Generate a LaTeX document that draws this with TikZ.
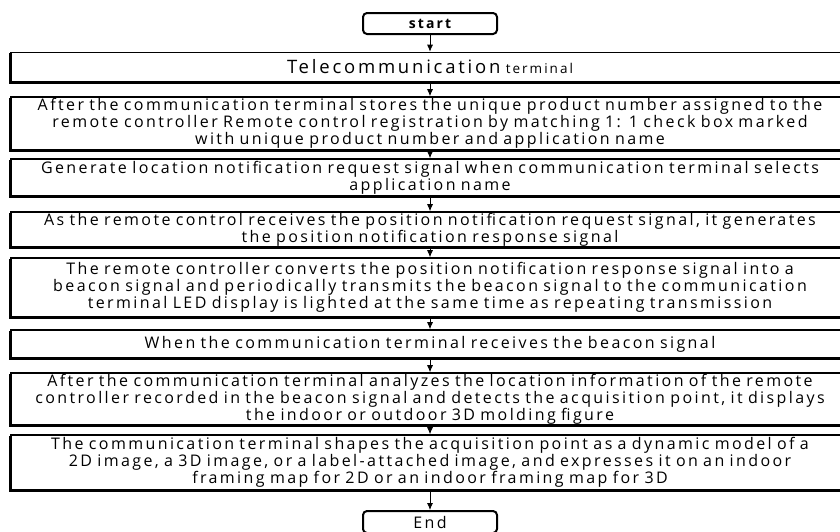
\documentclass[tikz,border=0pt]{standalone}
\usepackage{fontspec}
\setmainfont{Open Sans}[LetterSpace=15]
\usetikzlibrary{arrows.meta}
\newcommand\stepfont{\fontsize{16}{15.8}\selectfont\spaceskip=10pt plus 1pt minus 1pt\relax}
\begin{document}
\begin{tikzpicture}[x=1pt,y=-1pt,
  font=\stepfont,
  stepbox/.style={draw, line width=1.6pt, fill=white, minimum width=838pt,
    text width=838pt, align=center, inner sep=0pt,
    preaction={draw, line width=1.6pt, transform canvas={xshift=-1.6pt, yshift=-1.6pt}}},
  termbox/.style={draw, line width=2pt, fill=white, rounded corners=4pt,
    minimum width=134pt, inner sep=0pt},
  flow/.style={-{Latex[length=7pt,width=6pt]}, line width=0.8pt}]
  \clip (0,0) rectangle (840,531);
  % Start and end
  \node[termbox, minimum height=21pt] (start) at (430,23.5) {\fontsize{14}{15}\selectfont\bfseries start};
  \node[termbox, minimum height=22pt] (end) at (430,522) {End};
  % Steps
  \node[stepbox, minimum height=29pt] (term) at (430,67)
    {{\fontsize{18.5}{19}\selectfont Telecommunication} {\fontsize{13.5}{14}\selectfont terminal}};
  \node[stepbox, minimum height=53pt] (regist) at (430,123.5)
    {After the communication terminal stores the unique product number assigned to the\\
     remote controller Remote control registration by matching 1: 1 check box marked\\
     with unique product number and application name};
  \node[stepbox, minimum height=37pt] (request) at (430,177.5)
    {Generate location notification request signal when communication terminal selects\\
     application name};
  \node[stepbox, minimum height=35pt] (response) at (430,229.5)
    {As the remote control receives the position notification request signal, it generates\\
     the position notification response signal};
  \node[stepbox, minimum height=59pt] (beacon) at (430,287.5)
    {The remote controller converts the position notification response signal into a\\
     beacon signal and periodically transmits the beacon signal to the communication\\
     terminal LED display is lighted at the same time as repeating transmission};
  \node[stepbox, minimum height=28pt] (receive) at (430,344)
    {When the communication terminal receives the beacon signal};
  \node[stepbox, minimum height=52pt] (detect) at (430,399)
    {After the communication terminal analyzes the location information of the remote\\
     controller recorded in the beacon signal and detects the acquisition point, it displays\\
     the indoor or outdoor 3D molding figure};
  \node[stepbox, minimum height=55pt] (shape) at (430,462.5)
    {The communication terminal shapes the acquisition point as a dynamic model of a\\
     2D image, a 3D image, or a label-attached image, and expresses it on an indoor\\
     framing map for 2D or an indoor framing map for 3D};
  % Arrows
  \foreach \a/\b in {start/term, term/regist, regist/request, request/response,
    response/beacon, beacon/receive, receive/detect, detect/shape, shape/end}
    \draw[flow] (\a) -- (\b);
\end{tikzpicture}
\end{document}
